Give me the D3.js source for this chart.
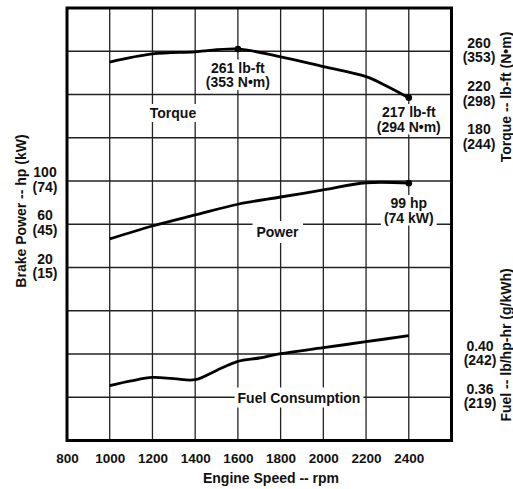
<!DOCTYPE html>
<html>
<head>
<meta charset="utf-8">
<script src="https://cdn.jsdelivr.net/npm/d3@7"></script>
<style>
  body { margin: 0; background: #fff; }
  text { font-family: "Liberation Sans", Arial, sans-serif; font-weight: bold; fill: #111; }
</style>
</head>
<body>
<div id="chart"></div>
<script>
let w = 513,
    h = 489;

// engine speed ticks
let rpmTicks = [800, 1000, 1200, 1400, 1600, 1800, 2000, 2200, 2400];

// torque curve, lb-ft
let torqueRpm = [1000, 1200, 1400, 1600, 1800, 2000, 2200, 2300, 2400];
let torqueVals = [250, 257.5, 259.5, 262, 254.8, 245.8, 236.5, 227.5, 217];

// brake power curve, hp
let powerRpm = [1000, 1200, 1400, 1600, 1800, 2000, 2200, 2400];
let powerVals = [46.4, 58.4, 68.6, 78.5, 85.2, 91.7, 98.4, 98];

// fuel consumption curve, lb/hp-hr
let fuelRpm = [1000, 1100, 1200, 1300, 1400, 1500, 1600, 1700, 1800, 2000, 2200, 2400];
let fuelVals = [0.3707, 0.3751, 0.3783, 0.3772, 0.3762, 0.3848, 0.3932, 0.3963, 0.4003, 0.4058, 0.4114, 0.4169];

// axis tick labels
let torqueTicks = [260, 220, 180];
let torqueMetric = [353, 298, 244];
let powerTicks = [100, 60, 20];
let powerMetric = [74, 45, 15];
let fuelTicks = [0.40, 0.36];
let fuelMetric = [242, 219];

let margin = { left: 67, right: 451.5, top: 8, bottom: 440.5 };

let x = d3.scaleLinear().domain([800, 2600]).range([margin.left, margin.right]);
let yTorque = d3.scaleLinear().domain([-100, 300]).range([margin.bottom, margin.top]);
let yPower = d3.scaleLinear().domain([-140, 260]).range([margin.bottom, margin.top]);
let yFuel = d3.scaleLinear().domain([0.32, 0.72]).range([margin.bottom, margin.top]);

let svg = d3.select("#chart")
            .append("svg")
            .attr("width", w)
            .attr("height", h);

// grid
let grid = svg.append("g");
grid.selectAll(".vline")
    .data(rpmTicks.slice(1))
    .enter()
    .append("line")
    .attr("x1", d => x(d)).attr("x2", d => x(d))
    .attr("y1", margin.top).attr("y2", margin.bottom)
    .attr("stroke", "#222").attr("stroke-width", 1.3);

grid.selectAll(".hline")
    .data(d3.range(-60, 300, 40))
    .enter()
    .append("line")
    .attr("x1", margin.left).attr("x2", margin.right)
    .attr("y1", d => yTorque(d)).attr("y2", d => yTorque(d))
    .attr("stroke", "#222").attr("stroke-width", 1.3);

// labels with white boxes
function boxedLabel(lines, cx, baselines, size, padX, padY) {
  let g = svg.append("g");
  let rect = g.append("rect").attr("fill", "#fff");
  lines.forEach((t, i) => {
    g.append("text")
      .attr("x", cx)
      .attr("y", baselines[i])
      .attr("text-anchor", "middle")
      .style("font-size", size + "px")
      .text(t);
  });
  let bb = g.node().getBBox();
  rect.attr("x", bb.x - padX).attr("y", bb.y - padY)
      .attr("width", bb.width + 2 * padX).attr("height", bb.height + 2 * padY);
}

boxedLabel(["Torque"], 173, [118], 14, 3, 1);
boxedLabel(["Power"], 277.5, [237], 14, 4, 3);
boxedLabel(["Fuel Consumption"], 299, [402.5], 14, 3, 2);
boxedLabel(["261 lb-ft", "(353 N\u2022m)"], x(1600), [72.5, 87], 14, 2, 0);
boxedLabel(["217 lb-ft", "(294 N\u2022m)"], x(2400), [117, 131.5], 14, 2, 0);
boxedLabel(["99 hp", "(74 kW)"], x(2400), [208, 222.5], 14, 3, 0);

// curves
function drawCurve(xs, ys, yScale) {
  let line = d3.line()
               .x((d, i) => x(xs[i]))
               .y(d => yScale(d))
               .curve(d3.curveCatmullRom.alpha(0.5));
  svg.append("path")
     .attr("d", line(ys))
     .attr("fill", "none")
     .attr("stroke", "#000")
     .attr("stroke-width", 2.8);
}
drawCurve(torqueRpm, torqueVals, yTorque);
drawCurve(powerRpm, powerVals, yPower);
drawCurve(fuelRpm, fuelVals, yFuel);

// marker dots
svg.append("circle").attr("cx", x(1600)).attr("cy", yTorque(torqueVals[3])).attr("r", 3.3);
svg.append("circle").attr("cx", x(2400)).attr("cy", yTorque(torqueVals[8])).attr("r", 3.3);
svg.append("circle").attr("cx", x(2400)).attr("cy", yPower(powerVals[7])).attr("r", 3.3);

// frame
svg.append("rect")
   .attr("x", margin.left).attr("y", margin.top)
   .attr("width", margin.right - margin.left).attr("height", margin.bottom - margin.top)
   .attr("fill", "none").attr("stroke", "#000").attr("stroke-width", 3);

// x axis
let xAxis = svg.append("g")
               .attr("transform", "translate(0," + margin.bottom + ")")
               .call(d3.axisBottom(x).tickValues(rpmTicks).tickSize(0).tickPadding(0).tickFormat(d3.format("d")));
xAxis.select(".domain").remove();
xAxis.selectAll("text")
     .attr("y", 22.5)
     .attr("dy", null)
     .style("font-size", "13.5px")
     .style("font-family", "'Liberation Sans', Arial, sans-serif")
     .style("font-weight", "bold")
     .attr("fill", "#111");

svg.append("text")
   .attr("x", 271).attr("y", 483)
   .attr("text-anchor", "middle")
   .style("font-size", "14px")
   .text("Engine Speed -- rpm");

// two-line tick labels
function sideTicks(vals, metric, yScale, cx, up, down, fmt) {
  vals.forEach((v, i) => {
    svg.append("text")
       .attr("x", cx).attr("y", yScale(v) - up)
       .attr("text-anchor", "middle")
       .style("font-size", "14px")
       .text(fmt(v));
    svg.append("text")
       .attr("x", cx).attr("y", yScale(v) + down)
       .attr("text-anchor", "middle")
       .style("font-size", "14px")
       .text("(" + metric[i] + ")");
  });
}
sideTicks(powerTicks, powerMetric, yPower, 45, 4, 10.5, d => d);
sideTicks(torqueTicks, torqueMetric, yTorque, 479, 3.5, 11, d => d);
sideTicks(fuelTicks, fuelMetric, yFuel, 480, 3.5, 11, d3.format(".2f"));

// rotated titles
function vTitle(t, cx, cy) {
  svg.append("text")
     .attr("transform", "translate(" + cx + "," + cy + ") rotate(-90)")
     .attr("text-anchor", "middle")
     .attr("dominant-baseline", "central")
     .style("font-size", "14px")
     .text(t);
}
vTitle("Brake Power -- hp (kW)", 21, 211);
vTitle("Torque -- lb-ft (N\u2022m)", 506, 97);
vTitle("Fuel -- lb/hp-hr (g/kWh)", 506, 345);
</script>
</body>
</html>
